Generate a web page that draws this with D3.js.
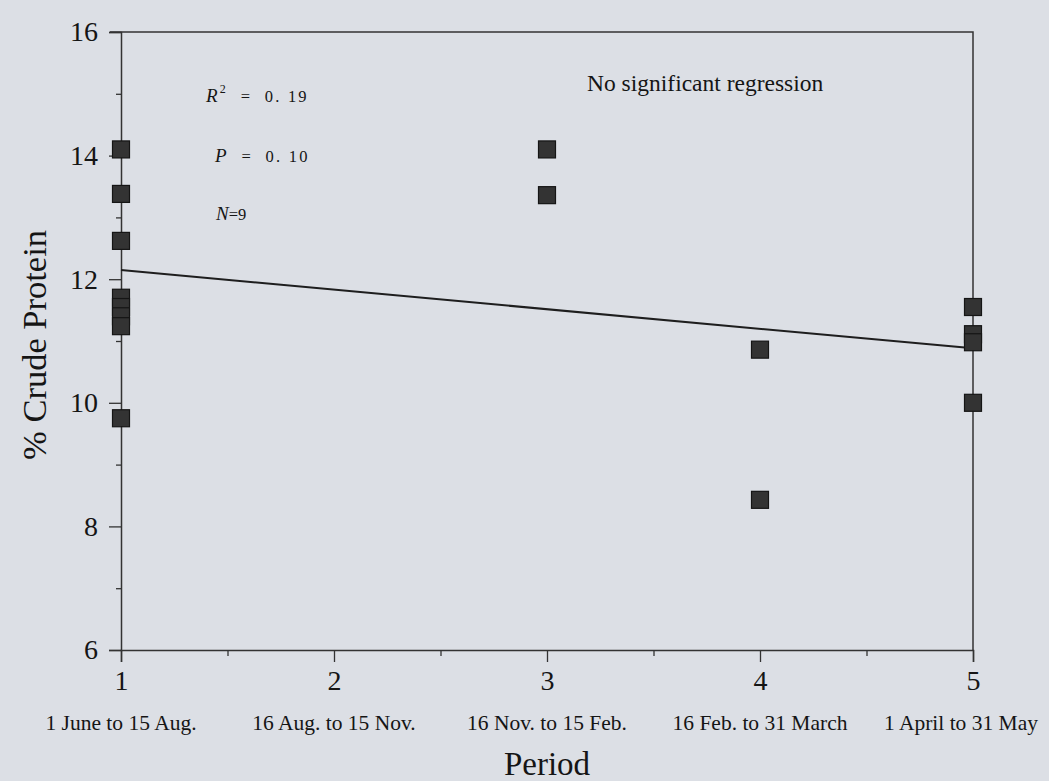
<!DOCTYPE html>
<html>
<head>
<meta charset="utf-8">
<script src="https://cdn.jsdelivr.net/npm/d3@7"></script>
<style>
  html, body { margin: 0; padding: 0; background: #dcdfe5; }
  svg { display: block; }
  text { font-family: "Liberation Serif", "Times New Roman", serif; fill: #151515; }
</style>
</head>
<body>
<svg id="chart" width="1049" height="781"></svg>
<script>
// ---- data ----
const periodTicks = [1, 2, 3, 4, 5];
const periodLabels = ["1 June to 15 Aug.", "16 Aug. to 15 Nov.", "16 Nov. to 15 Feb.", "16 Feb. to 31 March", "1 April to 31 May"];
const yTicks = [6, 8, 10, 12, 14, 16];
const pointPeriod = [1, 1, 1, 1, 1, 1, 1, 1, 3, 3, 4, 4, 5, 5, 5, 5];
const pointProtein = [14.1, 13.38, 12.62, 11.70, 11.55, 11.40, 11.24, 9.75, 14.1, 13.36, 10.86, 8.43, 11.55, 11.11, 10.98, 10.0];
const statLines = [
  { label: "R", sup: "2", value: "0. 19" },
  { label: "P", sup: "", value: "0. 10" }
];
const nLabel = { label: "N", value: "=9" };
const noteText = "No significant regression";

// ---- layout ----
const svg = d3.select("#chart");
const mLeft = 121, mRight = 973, mTop = 32, mBottom = 650;
const x = d3.scaleLinear().domain([1, 5]).range([mLeft, mRight]);
const y = d3.scaleLinear().domain([6, 16]).range([mBottom, mTop]);

// frame (top and right)
svg.append("path")
  .attr("d", `M${mLeft - 11},${mTop}H${mRight}V${mBottom}`)
  .attr("fill", "none").attr("stroke", "#333").attr("stroke-width", 1.5);

// y axis
const yAxis = svg.append("g").attr("transform", `translate(${mLeft},0)`)
  .call(d3.axisLeft(y).tickValues(yTicks).tickSize(12).tickPadding(11).tickFormat(d3.format("d")));
svg.append("g").attr("transform", `translate(${mLeft},0)`)
  .call(d3.axisLeft(y).tickValues([7, 9, 11, 13, 15]).tickSize(5).tickFormat(""))
  .call(g => g.select(".domain").remove());

// x axis
const xAxis = svg.append("g").attr("transform", `translate(0,${mBottom})`)
  .call(d3.axisBottom(x).tickValues(periodTicks).tickSize(12).tickPadding(8).tickFormat(d3.format("d")));
svg.append("g").attr("transform", `translate(0,${mBottom})`)
  .call(d3.axisBottom(x).tickValues([1.5, 2.5, 3.5, 4.5]).tickSize(6).tickFormat(""))
  .call(g => g.select(".domain").remove());

svg.selectAll(".domain").attr("stroke", "#333").attr("stroke-width", 1.5);
svg.selectAll(".tick line").attr("stroke", "#333").attr("stroke-width", 1.3);
yAxis.selectAll(".tick text").attr("font-size", 28).attr("font-family", "Liberation Serif").attr("fill", "#151515");
xAxis.selectAll(".tick text").attr("font-size", 28).attr("font-family", "Liberation Serif").attr("fill", "#151515");

// period labels under ticks
svg.append("g").selectAll("text").data(periodLabels).join("text")
  .attr("x", (d, i) => Math.min(x(periodTicks[i]), 1049 - 88))
  .attr("y", 730)
  .attr("text-anchor", "middle")
  .attr("font-size", 21.5)
  .text(d => d);

// axis titles
svg.append("text").attr("x", (mLeft + mRight) / 2).attr("y", 775)
  .attr("text-anchor", "middle").attr("font-size", 33).text("Period");
svg.append("text").attr("transform", `translate(46,${(mTop + mBottom) / 2 + 4}) rotate(-90)`)
  .attr("text-anchor", "middle").attr("font-size", 34.5).text("% Crude Protein");

// regression line computed from the data (least squares)
const n = pointPeriod.length;
const mx = d3.mean(pointPeriod), my = d3.mean(pointProtein);
let sxy = 0, sxx = 0;
for (let i = 0; i < n; i++) { sxy += (pointPeriod[i] - mx) * (pointProtein[i] - my); sxx += (pointPeriod[i] - mx) ** 2; }
const slope = sxy / sxx, intercept = my - slope * mx;
svg.append("line")
  .attr("x1", x(1)).attr("y1", y(intercept + slope * 1))
  .attr("x2", x(5)).attr("y2", y(intercept + slope * 5))
  .attr("stroke", "#1e1e1e").attr("stroke-width", 2);

// points
const sz = 17;
svg.append("g").selectAll("rect").data(pointProtein).join("rect")
  .attr("x", (d, i) => x(pointPeriod[i]) - sz / 2)
  .attr("y", d => y(d) - sz / 2)
  .attr("width", sz).attr("height", sz)
  .attr("fill", "#333").attr("stroke", "#151515").attr("stroke-width", 1.2);

// statistics annotations
const statX = [206, 215];
const statY = [102, 162];
statLines.forEach((s, i) => {
  const t = svg.append("text").attr("x", statX[i]).attr("y", statY[i])
    .attr("font-family", "Liberation Sans, Arial, sans-serif").attr("font-size", 16.5)
    .attr("letter-spacing", 2.2).attr("xml:space", "preserve").style("white-space", "pre");
  t.append("tspan").attr("font-style", "italic").attr("font-family", "Liberation Serif").attr("font-size", 19).text(s.label);
  if (s.sup) t.append("tspan").attr("dy", -9).attr("font-size", 12).text(s.sup);
  t.append("tspan").attr("dy", s.sup ? 9 : 0).text("  =  " + s.value);
});
const nt = svg.append("text").attr("x", 216).attr("y", 220)
  .attr("font-family", "Liberation Sans, Arial, sans-serif").attr("font-size", 16.5);
nt.append("tspan").attr("font-style", "italic").attr("font-family", "Liberation Serif").attr("font-size", 19).text(nLabel.label);
nt.append("tspan").text(nLabel.value);

svg.append("text").attr("x", 587).attr("y", 91).attr("font-size", 23.5).text(noteText);
</script>
</body>
</html>
